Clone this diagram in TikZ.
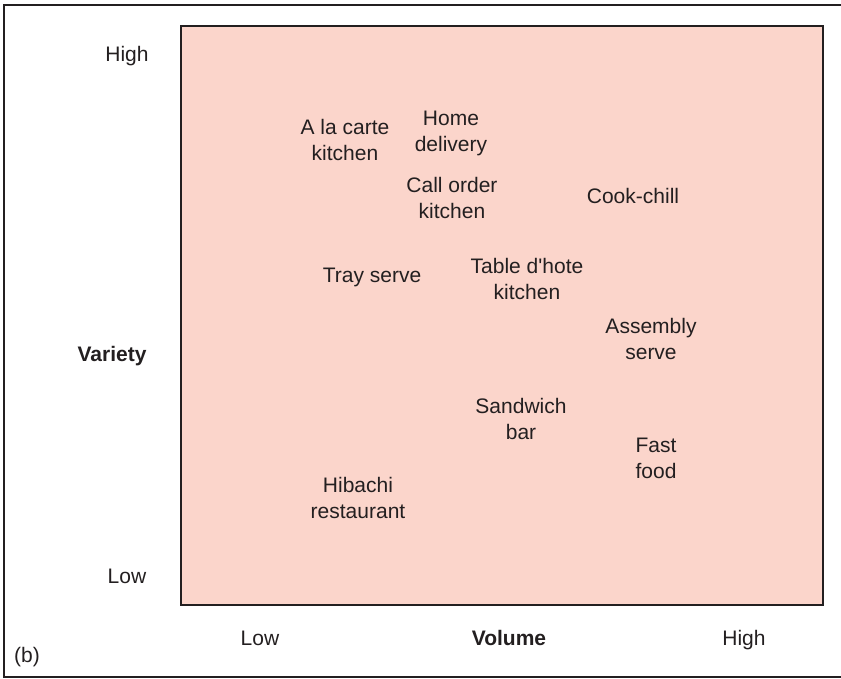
\documentclass[tikz,border=0pt]{standalone}
\usepackage{fontspec}
\setmainfont{Liberation Sans}
\usetikzlibrary{positioning}
\definecolor{chartpink}{HTML}{FBD5CB}
\definecolor{inkgray}{HTML}{231F20}

\begin{document}
\begin{tikzpicture}[
            x=0.5pt, y=-0.5pt,
            every node/.style={font=\fontsize{10.5}{13}\selectfont, text=inkgray},
            item/.style={
                    align=center,
                    inner sep=0pt
                },
            axislabel/.style={
                    font=\fontsize{10.5}{13}\selectfont\bfseries,
                    inner sep=0pt,
                    text height=7.6pt,
                    text depth=2.2pt
                },
            tick/.style={
                    inner sep=0pt,
                    text height=7.6pt,
                    text depth=2.2pt
                }
            ]
            \useasboundingbox (0,0) rectangle (841,679);

            % Rahmen
            \draw [inkgray, line width=1.3pt] (841,5) -- (4,5) -- (4,677) -- (841,677);
            \draw [fill=chartpink, draw=inkgray, line width=0.8pt] (181,26) rectangle (823,605);

            % Achsen
            \node (yhigh) [tick] at (127,56) {High};
            \node (ylow) [tick] at (127,578) {Low};
            \node (variety) [axislabel] at (112,356) {Variety};
            \node (xlow) [tick] at (260,640) {Low};
            \node (volume) [axislabel] at (509,640) {Volume};
            \node (xhigh) [tick] at (744,640) {High};
            \node (panel) [tick] at (27,657) {(b)};

            % Systeme
            \node (alacarte) [item] at (345,140) {A la carte\\kitchen};
            \node (home) [item] at (451,133) {Home\\delivery};
            \node (callorder) [item] at (452,198) {Call order\\kitchen};
            \node (cookchill) [item] at (633,196) {Cook-chill};
            \node (tray) [item] at (372,277) {Tray serve};
            \node (tabledhote) [item] at (527,279) {Table d\textquotesingle hote\\kitchen};
            \node (assembly) [item] at (651,339) {Assembly\\serve};
            \node (sandwich) [item] at (521,419) {Sandwich\\bar};
            \node (fastfood) [item] at (656,458) {Fast\\food};
            \node (hibachi) [item] at (358,498) {Hibachi\\restaurant};

        \end{tikzpicture}
\end{document}
